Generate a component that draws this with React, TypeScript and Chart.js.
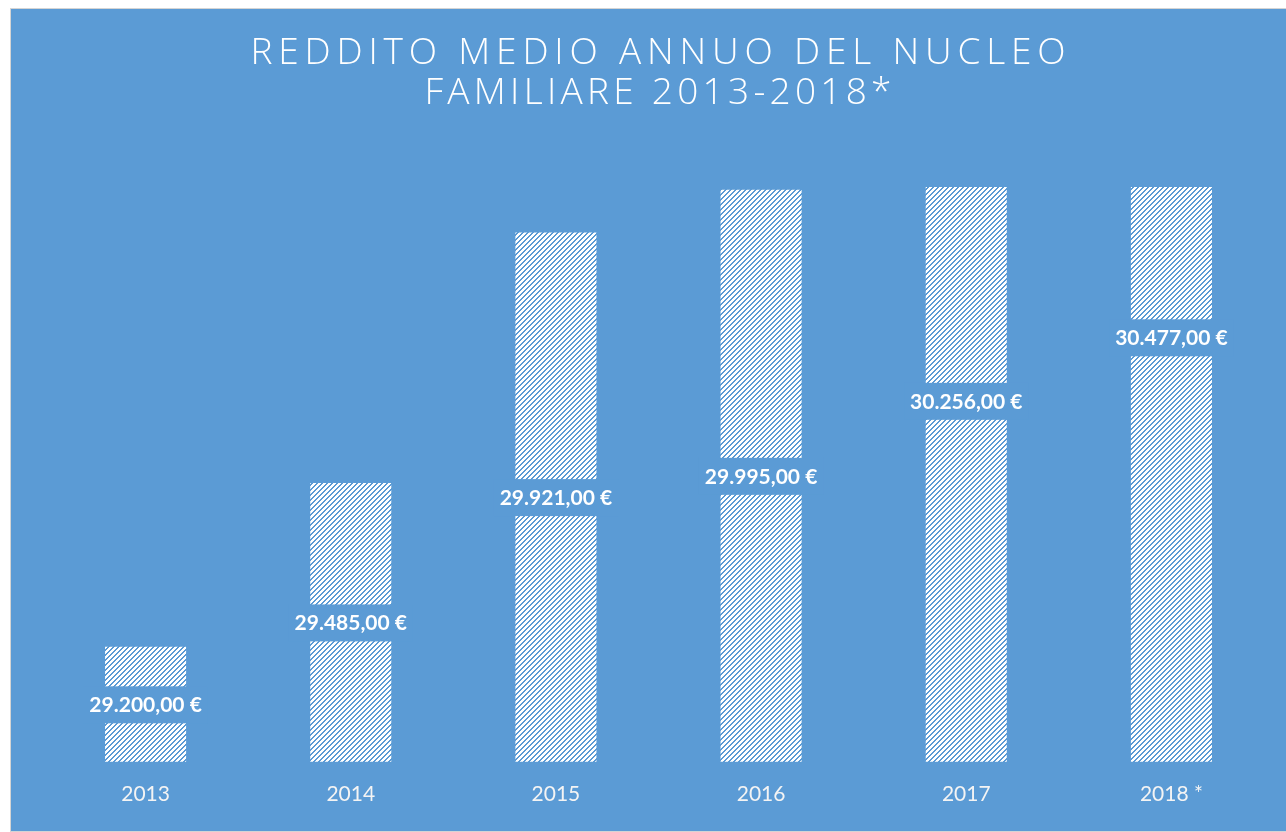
import React, { useEffect, useRef } from "react";
import { Chart, registerables } from "chart.js";

Chart.register(...registerables);

const categories = ["2013", "2014", "2015", "2016", "2017", "2018 *"];
const values = [29200, 29485, 29921, 29995, 30256, 30477];
const valueLabels = ["29.200,00 €", "29.485,00 €", "29.921,00 €", "29.995,00 €", "30.256,00 €", "30.477,00 €"];
const titleLines = ["REDDITO MEDIO ANNUO DEL NUCLEO", "FAMILIARE 2013-2018*"];
const yMin = 29000;
const yMax = 30000;

const BLUE = "#5b9bd5";

function makePattern(): CanvasPattern | string {
  const c = document.createElement("canvas");
  c.width = 5;
  c.height = 5;
  const g = c.getContext("2d");
  if (!g) return "#ffffff";
  g.fillStyle = "#ffffff";
  g.fillRect(0, 0, 5, 5);
  g.fillStyle = BLUE;
  for (let i = 0; i < 5; i++) {
    g.fillRect(i, 4 - i, 1, 1);
    g.fillRect((i + 1) % 5, 4 - i, 1, 1);
  }
  const p = g.createPattern(c, "repeat");
  return p || "#ffffff";
}

const titlePlugin = {
  id: "customTitle",
  afterDraw(chart: any) {
    const ctx = chart.ctx;
    ctx.save();
    ctx.fillStyle = "#ffffff";
    ctx.textAlign = "center";
    ctx.textBaseline = "alphabetic";
    ctx.font = "300 37px 'Open Sans', Lato, sans-serif";
    const targets = [815, 467];
    const baselines = [55, 95];
    const cx = 647;
    titleLines.forEach((line, i) => {
      ctx.letterSpacing = "0px";
      const w = ctx.measureText(line).width;
      const ls = (targets[i] - w) / (line.length - 1);
      ctx.letterSpacing = ls + "px";
      ctx.fillText(line, cx + ls / 2, baselines[i]);
    });
    ctx.restore();
  },
};

const labelPlugin = {
  id: "valueLabels",
  afterDatasetsDraw(chart: any) {
    const ctx = chart.ctx;
    const meta = chart.getDatasetMeta(0);
    const y = chart.scales.y;
    const y0 = y.getPixelForValue(yMin);
    ctx.save();
    ctx.font = "bold 21px Lato, 'Open Sans', sans-serif";
    ctx.textAlign = "center";
    ctx.textBaseline = "middle";
    meta.data.forEach((bar: any, i: number) => {
      const yv = y.getPixelForValue(values[i]);
      const cy = (yv + y0) / 2;
      const text = valueLabels[i];
      const w = ctx.measureText(text).width;
      ctx.fillStyle = BLUE;
      ctx.fillRect(bar.x - w / 2 - 6, cy - 18, w + 12, 37);
      ctx.fillStyle = "#ffffff";
      ctx.fillText(text, bar.x, cy + 1);
    });
    ctx.restore();
  },
};

export default function App() {
  const ref = useRef<HTMLCanvasElement>(null);
  useEffect(() => {
    if (!ref.current) return;
    const chart = new Chart(ref.current, {
      type: "bar",
      data: {
        labels: categories,
        datasets: [
          {
            data: values,
            backgroundColor: makePattern() as any,
            borderWidth: 0,
            categoryPercentage: 1,
            barPercentage: 0.395,
          },
        ],
      },
      options: {
        animation: false,
        responsive: false,
        layout: { padding: { top: 178, left: 32, right: 17, bottom: 12 } },
        plugins: { legend: { display: false }, tooltip: { enabled: false }, title: { display: false } },
        scales: {
          y: { display: false, min: yMin, max: yMax },
          x: {
            grid: { display: false },
            border: { display: false },
            ticks: {
              color: "#f4f4f4",
              font: { size: 21, family: "Lato, 'Open Sans', sans-serif" },
              padding: 12,
            },
          },
        },
      },
      plugins: [labelPlugin, titlePlugin],
    });
    return () => chart.destroy();
  }, []);
  return (
    <div
      style={{
        position: "absolute",
        left: 10,
        top: 8,
        width: 1280,
        height: 822,
        border: "1px solid #d4d4d4",
        background: BLUE,
      }}
    >
      <canvas ref={ref} width={1280} height={822} style={{ display: "block" }} />
    </div>
  );
}
